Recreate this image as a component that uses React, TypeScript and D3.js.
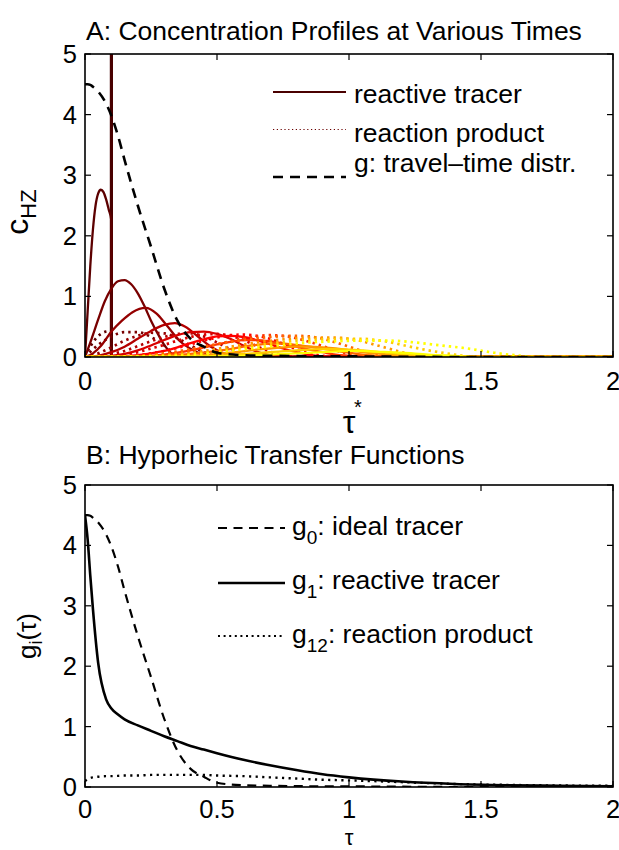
import React from 'react';
import * as d3 from 'd3';

// ---------- data ----------
const TAU_TICKS = [0, 0.5, 1, 1.5, 2];
const TAU_TICK_LABELS = ['0', '0.5', '1', '1.5', '2'];
const Y_TICKS = [0, 1, 2, 3, 4, 5];

const SPIKE_TAU = 0.1;
const SPIKE_COLOR = '#480000';

const PROFILE_COLORS = [
  '#5c0000', '#780000', '#940000', '#b40000', '#d80000', '#ff0000',
  '#ff3300', '#ff6600', '#ff9900', '#ffcc00', '#ffff00',
];

const TRACER_PROFILES: [number, number][][] = [
  [[0, 0], [0.01, 0.75], [0.02, 1.5], [0.03, 2.1], [0.04, 2.5], [0.05, 2.7], [0.06, 2.76], [0.07, 2.72], [0.08, 2.6], [0.09, 2.43], [0.1, 2.25], [0.1005, 0], [2, 0]],
  [[0, 0], [0.025, 0.3], [0.05, 0.62], [0.075, 0.92], [0.1, 1.13], [0.125, 1.25], [0.15, 1.27], [0.175, 1.2], [0.2, 1.05], [0.225, 0.84], [0.25, 0.6], [0.275, 0.39], [0.3, 0.2], [0.325, 0.07], [0.35, 0.01], [0.4, 0], [2, 0]],
  [[0, 0], [0.03, 0.06], [0.06, 0.18], [0.1, 0.42], [0.14, 0.6], [0.18, 0.74], [0.23, 0.81], [0.27, 0.72], [0.31, 0.52], [0.36, 0.26], [0.41, 0.11], [0.45, 0.03], [0.48, 0], [2, 0]],
  [[0, 0], [0.05, 0.02], [0.1, 0.08], [0.15, 0.17], [0.2, 0.3], [0.25, 0.43], [0.3, 0.53], [0.34, 0.56], [0.38, 0.5], [0.43, 0.33], [0.48, 0.16], [0.53, 0.05], [0.58, 0], [2, 0]],
  [[0, 0], [0.1, 0.02], [0.15, 0.05], [0.2, 0.11], [0.25, 0.19], [0.3, 0.28], [0.35, 0.36], [0.4, 0.41], [0.45, 0.42], [0.5, 0.38], [0.55, 0.3], [0.6, 0.19], [0.65, 0.09], [0.7, 0.03], [0.75, 0], [2, 0]],
  [[0, 0], [0.1, 0], [0.2, 0.03], [0.25, 0.06], [0.3, 0.1], [0.35, 0.16], [0.4, 0.23], [0.45, 0.29], [0.5, 0.34], [0.55, 0.35], [0.6, 0.33], [0.65, 0.28], [0.7, 0.21], [0.75, 0.14], [0.8, 0.08], [0.85, 0.04], [0.9, 0.01], [0.95, 0], [2, 0]],
  [[0, 0], [0.15, 0], [0.25, 0.02], [0.3, 0.04], [0.35, 0.07], [0.4, 0.11], [0.45, 0.16], [0.5, 0.21], [0.55, 0.25], [0.6, 0.28], [0.65, 0.28], [0.7, 0.26], [0.75, 0.22], [0.8, 0.17], [0.85, 0.12], [0.9, 0.08], [0.95, 0.04], [1.0, 0.02], [1.05, 0], [2, 0]],
  [[0, 0], [0.2, 0], [0.3, 0.02], [0.4, 0.05], [0.5, 0.1], [0.55, 0.13], [0.6, 0.17], [0.65, 0.2], [0.7, 0.22], [0.75, 0.22], [0.8, 0.2], [0.85, 0.17], [0.9, 0.14], [0.95, 0.1], [1.0, 0.07], [1.05, 0.04], [1.1, 0.02], [1.15, 0], [2, 0]],
  [[0, 0], [0.25, 0], [0.35, 0.01], [0.45, 0.03], [0.55, 0.07], [0.65, 0.12], [0.7, 0.14], [0.75, 0.16], [0.8, 0.17], [0.85, 0.17], [0.9, 0.16], [0.95, 0.14], [1.0, 0.11], [1.05, 0.08], [1.1, 0.06], [1.15, 0.04], [1.2, 0.02], [1.27, 0], [2, 0]],
  [[0, 0], [0.3, 0], [0.4, 0.01], [0.5, 0.02], [0.6, 0.05], [0.7, 0.08], [0.8, 0.11], [0.9, 0.13], [0.95, 0.13], [1.0, 0.12], [1.1, 0.09], [1.2, 0.05], [1.3, 0.02], [1.38, 0], [2, 0]],
  [[0, 0], [0.35, 0], [0.5, 0.01], [0.6, 0.02], [0.7, 0.04], [0.8, 0.06], [0.9, 0.08], [1.0, 0.1], [1.05, 0.1], [1.1, 0.09], [1.2, 0.07], [1.3, 0.04], [1.4, 0.02], [1.5, 0], [2, 0]],
];

const PRODUCT_PROFILES: [number, number][][] = [
  [[0, 0], [0.02, 0.17], [0.04, 0.3], [0.06, 0.38], [0.08, 0.42], [0.1, 0.43], [0.1005, 0], [2, 0]],
  [[0, 0], [0.05, 0.2], [0.1, 0.34], [0.15, 0.41], [0.2, 0.41], [0.25, 0.33], [0.3, 0.19], [0.33, 0.08], [0.36, 0.01], [0.4, 0], [2, 0]],
  [[0, 0], [0.05, 0.06], [0.1, 0.16], [0.15, 0.27], [0.2, 0.35], [0.25, 0.4], [0.3, 0.39], [0.35, 0.31], [0.4, 0.19], [0.45, 0.08], [0.5, 0.01], [0.55, 0], [2, 0]],
  [[0, 0], [0.1, 0.05], [0.15, 0.1], [0.2, 0.18], [0.25, 0.26], [0.3, 0.33], [0.35, 0.38], [0.4, 0.39], [0.45, 0.34], [0.5, 0.24], [0.55, 0.13], [0.6, 0.05], [0.65, 0.01], [0.7, 0], [2, 0]],
  [[0, 0], [0.1, 0.01], [0.15, 0.04], [0.2, 0.08], [0.25, 0.14], [0.3, 0.2], [0.35, 0.27], [0.4, 0.33], [0.45, 0.37], [0.5, 0.38], [0.55, 0.35], [0.6, 0.28], [0.65, 0.18], [0.7, 0.09], [0.75, 0.03], [0.8, 0], [2, 0]],
  [[0, 0], [0.15, 0.01], [0.2, 0.03], [0.25, 0.06], [0.3, 0.1], [0.35, 0.15], [0.4, 0.21], [0.45, 0.27], [0.5, 0.32], [0.55, 0.36], [0.6, 0.37], [0.65, 0.35], [0.7, 0.3], [0.75, 0.22], [0.8, 0.13], [0.85, 0.06], [0.9, 0.02], [0.95, 0], [2, 0]],
  [[0, 0], [0.2, 0.01], [0.3, 0.04], [0.4, 0.11], [0.45, 0.16], [0.5, 0.21], [0.55, 0.26], [0.6, 0.31], [0.65, 0.34], [0.7, 0.36], [0.75, 0.35], [0.8, 0.31], [0.85, 0.25], [0.9, 0.18], [0.95, 0.11], [1.0, 0.05], [1.05, 0.02], [1.1, 0], [2, 0]],
  [[0, 0], [0.2, 0.02], [0.3, 0.06], [0.4, 0.13], [0.5, 0.21], [0.6, 0.28], [0.7, 0.33], [0.8, 0.35], [0.85, 0.34], [0.9, 0.3], [0.95, 0.24], [1.0, 0.17], [1.05, 0.1], [1.1, 0.05], [1.15, 0.02], [1.2, 0], [2, 0]],
  [[0, 0], [0.25, 0.02], [0.35, 0.05], [0.45, 0.1], [0.55, 0.17], [0.65, 0.24], [0.75, 0.29], [0.85, 0.32], [0.95, 0.32], [1.0, 0.3], [1.05, 0.26], [1.1, 0.2], [1.15, 0.14], [1.2, 0.08], [1.25, 0.04], [1.3, 0.01], [1.35, 0], [2, 0]],
  [[0, 0], [0.3, 0.02], [0.4, 0.05], [0.5, 0.1], [0.6, 0.16], [0.7, 0.22], [0.8, 0.27], [0.9, 0.29], [1.0, 0.3], [1.05, 0.3], [1.1, 0.28], [1.15, 0.25], [1.2, 0.2], [1.3, 0.11], [1.4, 0.04], [1.45, 0.01], [1.5, 0], [2, 0]],
  [[0, 0], [0.35, 0.02], [0.45, 0.05], [0.55, 0.1], [0.65, 0.15], [0.75, 0.2], [0.85, 0.24], [0.95, 0.26], [1.05, 0.27], [1.15, 0.27], [1.25, 0.24], [1.35, 0.19], [1.45, 0.14], [1.55, 0.07], [1.65, 0.02], [1.7, 0], [2, 0]],
];

const TAU_G = [0, 0.01, 0.02, 0.03, 0.05, 0.08, 0.1, 0.125, 0.15, 0.2, 0.25, 0.3, 0.35, 0.4, 0.45, 0.5, 0.6, 0.7, 0.8, 0.9, 1.0, 1.2, 1.4, 1.6, 1.8, 2.0];
const G0 = [4.5, 4.5, 4.49, 4.46, 4.38, 4.18, 3.98, 3.65, 3.25, 2.5, 1.82, 1.13, 0.6, 0.3, 0.17, 0.07, 0.03, 0.02, 0.015, 0.01, 0.01, 0.005, 0, 0, 0, 0];
const G1 = [4.5, 4.1, 3.5, 2.95, 2.05, 1.45, 1.3, 1.2, 1.12, 1.02, 0.93, 0.84, 0.76, 0.68, 0.62, 0.56, 0.45, 0.36, 0.28, 0.21, 0.16, 0.09, 0.05, 0.03, 0.02, 0.01];
const G12 = [0.1, 0.13, 0.15, 0.16, 0.17, 0.18, 0.18, 0.185, 0.19, 0.19, 0.2, 0.2, 0.2, 0.2, 0.2, 0.19, 0.18, 0.16, 0.14, 0.12, 0.11, 0.08, 0.05, 0.035, 0.025, 0.02];

// ---------- layout ----------
const FONT = "'Liberation Sans', Arial, Helvetica, sans-serif";
const W = 619;
const H = 850;
const PANEL_A = { left: 85, right: 613, top: 54, bottom: 357 };
const PANEL_B = { left: 85, right: 613, top: 485, bottom: 787 };
const TICK_FS = 25.5;
const TEXT_FS = 26.5;

type Panel = typeof PANEL_A;

function Frame({ p, x, y, tickLabelY }: { p: Panel; x: d3.ScaleLinear<number, number>; y: d3.ScaleLinear<number, number>; tickLabelY: number }) {
  const tl = 6;
  return (
    <g>
      {TAU_TICKS.map((t, i) => (
        <g key={'xt' + i}>
          <line x1={x(t)} x2={x(t)} y1={p.bottom} y2={p.bottom - tl} stroke="#000" strokeWidth={1.2} />
          <line x1={x(t)} x2={x(t)} y1={p.top} y2={p.top + tl} stroke="#000" strokeWidth={1.2} />
          <text x={x(t)} y={tickLabelY} fontSize={TICK_FS} textAnchor="middle" fontFamily={FONT}>{TAU_TICK_LABELS[i]}</text>
        </g>
      ))}
      {Y_TICKS.map((v) => (
        <g key={'yt' + v}>
          <line x1={p.left} x2={p.left + tl} y1={y(v)} y2={y(v)} stroke="#000" strokeWidth={1.2} />
          <line x1={p.right} x2={p.right - tl} y1={y(v)} y2={y(v)} stroke="#000" strokeWidth={1.2} />
          <text x={p.left - 8} y={y(v) + 9} fontSize={TICK_FS} textAnchor="end" fontFamily={FONT}>{v}</text>
        </g>
      ))}
      <rect x={p.left} y={p.top} width={p.right - p.left} height={p.bottom - p.top} fill="none" stroke="#000" strokeWidth={1.6} />
    </g>
  );
}

export default function App() {
  const xA = d3.scaleLinear().domain([0, 2]).range([PANEL_A.left, PANEL_A.right]);
  const yA = d3.scaleLinear().domain([0, 5]).range([PANEL_A.bottom, PANEL_A.top]);
  const xB = d3.scaleLinear().domain([0, 2]).range([PANEL_B.left, PANEL_B.right]);
  const yB = d3.scaleLinear().domain([0, 5]).range([PANEL_B.bottom, PANEL_B.top]);

  const lineA = d3.line<[number, number]>().x((d) => xA(d[0])).y((d) => yA(d[1])).curve(d3.curveMonotoneX);
  const lineAlin = d3.line<[number, number]>().x((d) => xA(d[0])).y((d) => yA(d[1]));
  const lineB = d3.line<[number, number]>().x((d) => xB(d[0])).y((d) => yB(d[1])).curve(d3.curveMonotoneX);

  const gPts = (vals: number[]) => TAU_G.map((t, i) => [t, vals[i]] as [number, number]);

  return (
    <svg width={W} height={H} style={{ position: 'absolute', left: 0, top: 0, background: '#fff' }} fontFamily={FONT}>
      <defs>
        <clipPath id="clipA">
          <rect x={PANEL_A.left} y={PANEL_A.top} width={PANEL_A.right - PANEL_A.left} height={PANEL_A.bottom - PANEL_A.top} />
        </clipPath>
        <clipPath id="clipB">
          <rect x={PANEL_B.left} y={PANEL_B.top} width={PANEL_B.right - PANEL_B.left} height={PANEL_B.bottom - PANEL_B.top} />
        </clipPath>
      </defs>
      <rect x={0} y={0} width={W} height={H} fill="#fff" />

      {/* ---------- Panel A ---------- */}
      <text x={86} y={40} fontSize={TEXT_FS} fontFamily={FONT}>A: Concentration Profiles at Various Times</text>
      <g clipPath="url(#clipA)">
        <path d={lineAlin([[SPIKE_TAU, 0], [SPIKE_TAU, 6]]) || ''} stroke={SPIKE_COLOR} strokeWidth={3.2} fill="none" />
        {TRACER_PROFILES.map((pts, i) => (
          <g key={'prof' + i}>
            <path d={lineA(pts) || ''} stroke={PROFILE_COLORS[i]} strokeWidth={2.3} fill="none" />
            <path d={lineA(PRODUCT_PROFILES[i]) || ''} stroke={PROFILE_COLORS[i]} strokeWidth={2.7} strokeDasharray="2.4 4" fill="none" />
          </g>
        ))}
        <path d={lineA(gPts(G0)) || ''} stroke="#000" strokeWidth={2.6} strokeDasharray="10 7" fill="none" />
      </g>
      <Frame p={PANEL_A} x={xA} y={yA} tickLabelY={390} />

      {/* legend A */}
      <line x1={273} x2={346} y1={92} y2={92} stroke="#4a0000" strokeWidth={2.2} />
      <text x={354} y={103} fontSize={TEXT_FS}>reactive tracer</text>
      <line x1={273} x2={346} y1={129.5} y2={129.5} stroke="#6a0000" strokeWidth={1.2} strokeDasharray="1.2 2.6" />
      <text x={354} y={142} fontSize={TEXT_FS}>reaction product</text>
      <line x1={273} x2={346} y1={177} y2={177} stroke="#000" strokeWidth={2.4} strokeDasharray="10 7" />
      <text x={354} y={172} fontSize={TEXT_FS}>g: travel–time distr.</text>

      {/* axis labels A */}
      <text transform="translate(28,212) rotate(-90)" fontSize={32} textAnchor="middle">
        c<tspan fontSize={22} dy={8}>HZ</tspan>
      </text>
      <text x={349} y={433} fontSize={32} textAnchor="middle">τ</text>
      <text x={358} y={414} fontSize={20} textAnchor="middle">*</text>

      {/* ---------- Panel B ---------- */}
      <text x={86} y={464} fontSize={TEXT_FS}>B: Hyporheic Transfer Functions</text>
      <g clipPath="url(#clipB)">
        <path d={lineB(gPts(G12)) || ''} stroke="#000" strokeWidth={2.4} strokeDasharray="2.2 4.4" fill="none" />
        <path d={lineB(gPts(G0)) || ''} stroke="#000" strokeWidth={2.2} strokeDasharray="9 6.5" fill="none" />
        <path d={lineB(gPts(G1)) || ''} stroke="#000" strokeWidth={2.6} fill="none" />
      </g>
      <Frame p={PANEL_B} x={xB} y={yB} tickLabelY={818} />

      {/* legend B */}
      <line x1={218} x2={285} y1={528} y2={528} stroke="#000" strokeWidth={2.2} strokeDasharray="9 6.5" />
      <text x={292} y={535} fontSize={TEXT_FS}>g<tspan fontSize={19} dy={9}>0</tspan><tspan dy={-9}>: ideal tracer</tspan></text>
      <line x1={218} x2={285} y1={583} y2={583} stroke="#000" strokeWidth={2.6} />
      <text x={292} y={589} fontSize={TEXT_FS}>g<tspan fontSize={19} dy={9}>1</tspan><tspan dy={-9}>: reactive tracer</tspan></text>
      <line x1={218} x2={285} y1={636} y2={636} stroke="#000" strokeWidth={2.2} strokeDasharray="2 3.6" />
      <text x={292} y={643} fontSize={TEXT_FS}>g<tspan fontSize={19} dy={9}>12</tspan><tspan dy={-9}>: reaction product</tspan></text>

      {/* axis labels B */}
      <text transform="translate(36,636) rotate(-90)" fontSize={26} textAnchor="middle">
        g<tspan fontSize={18} dy={6}>i</tspan><tspan dy={-6}>(τ)</tspan>
      </text>
      <text x={349} y={845} fontSize={22} textAnchor="middle">τ</text>
    </svg>
  );
}
